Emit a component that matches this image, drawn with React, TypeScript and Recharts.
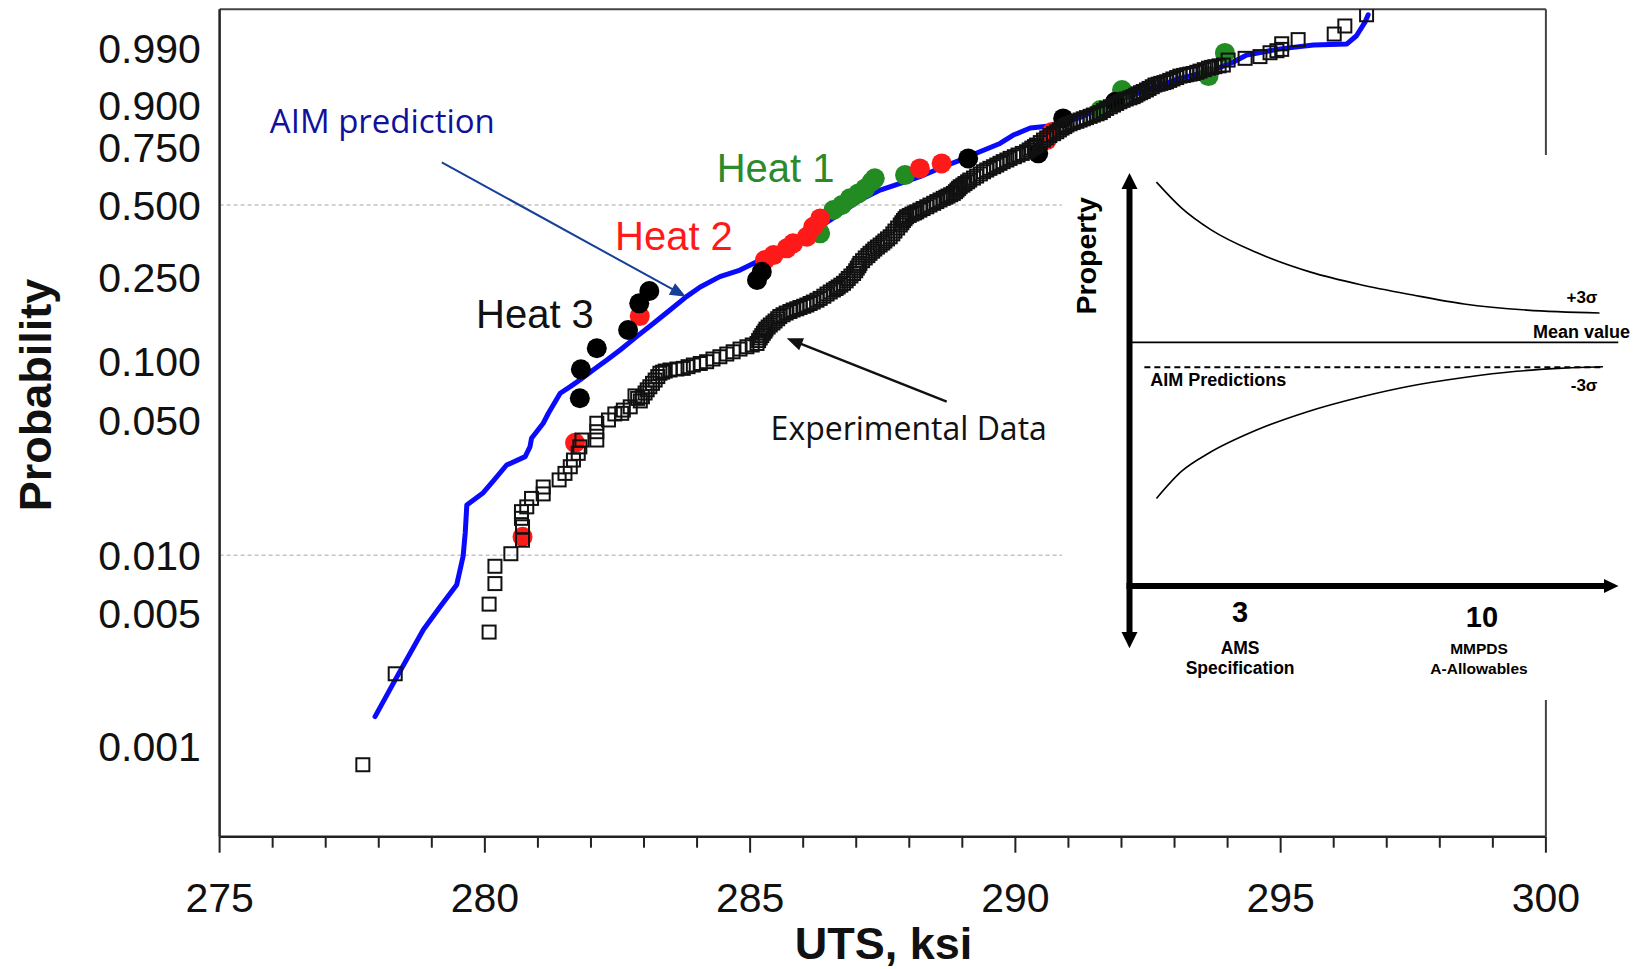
import React from 'react';
import { ScatterChart, Scatter, XAxis, YAxis, ReferenceLine } from 'recharts';

const ARIAL = "'Liberation Sans', Arial, Helvetica, sans-serif";
const CALIBRI = "'Open Sans', 'Noto Sans', sans-serif";

// ---------------- main chart data ----------------
const probTicks = [0.001, 0.005, 0.01, 0.05, 0.1, 0.25, 0.5, 0.75, 0.9, 0.99];
const probTickLabels = ['0.001', '0.005', '0.010', '0.050', '0.100', '0.250', '0.500', '0.750', '0.900', '0.990'];
const utsTicks = [275, 276, 277, 278, 279, 280, 281, 282, 283, 284, 285, 286, 287, 288, 289, 290, 291, 292, 293, 294, 295, 296, 297, 298, 299, 300];
const gridProbs = [0.5, 0.01];

// [UTS ksi, probability]
const aimPrediction: [number, number][] = [
  [277.93, 0.00143], [278.31, 0.00223], [278.84, 0.00408], [279.16, 0.0054], [279.47, 0.00703],
  [279.59, 0.0099], [279.63, 0.0131], [279.66, 0.0183], [279.97, 0.0212], [280.16, 0.0244],
  [280.41, 0.0295], [280.76, 0.0326], [280.85, 0.0366], [280.88, 0.0405], [281.10, 0.0484],
  [281.20, 0.0546], [281.42, 0.0688], [281.61, 0.0743], [281.79, 0.0802], [282.04, 0.0901],
  [282.30, 0.101], [282.55, 0.1133], [282.86, 0.1317], [283.18, 0.1529], [283.49, 0.1771],
  [283.80, 0.2047], [284.06, 0.227], [284.43, 0.253], [284.81, 0.2709], [285.06, 0.2897],
  [285.44, 0.3202], [285.81, 0.3535], [286.32, 0.4133], [286.70, 0.4659], [287.07, 0.521],
  [287.45, 0.5643], [287.83, 0.5936], [288.20, 0.623], [288.64, 0.6675], [288.96, 0.6969],
  [289.33, 0.7327], [289.71, 0.7674], [289.96, 0.801], [290.28, 0.8275], [290.69, 0.836],
  [291.22, 0.8638], [291.85, 0.9106], [292.48, 0.938], [293.10, 0.9594], [293.73, 0.971],
  [294.11, 0.9799], [294.36, 0.9857], [294.99, 0.9897], [295.62, 0.9917], [296.25, 0.9922],
  [296.43, 0.9953], [296.59, 0.9982], [296.65, 0.999],
];

const experimentalData: [number, number][] = [
  [277.70, 0.0008], [278.31, 0.0024], [280.08, 0.00397], [280.08, 0.00556], [280.19, 0.00712],
  [280.19, 0.00877], [280.49, 0.0102], [280.71, 0.012], [280.71, 0.0141], [280.69, 0.0156],
  [280.69, 0.0169], [280.79, 0.0179], [280.88, 0.0198], [281.10, 0.0209], [281.10, 0.0227],
  [281.40, 0.0247], [281.51, 0.0267], [281.61, 0.0289], [281.67, 0.0313], [281.76, 0.0339],
  [281.79, 0.0366], [281.83, 0.0397], [282.11, 0.0397], [282.11, 0.0438], [282.11, 0.0484],
  [282.33, 0.0503], [282.45, 0.054], [282.58, 0.0544], [282.61, 0.0565], [282.74, 0.0587],
  [282.83, 0.0667], [282.93, 0.0629], [283.02, 0.069], [283.11, 0.0742], [283.21, 0.0802],
  [283.30, 0.0868], [283.40, 0.089], [283.49, 0.0901], [283.62, 0.0911], [283.74, 0.0918],
  [283.83, 0.0936], [283.93, 0.0954], [284.06, 0.0971], [284.18, 0.0991], [284.30, 0.1022],
  [284.43, 0.1049], [284.56, 0.1082], [284.68, 0.111], [284.81, 0.1145], [284.94, 0.1175],
  [285.04, 0.1199], [285.13, 0.122], [285.19, 0.1298], [285.25, 0.1369], [285.30, 0.1434],
  [285.38, 0.1501], [285.47, 0.1569], [285.56, 0.1649], [285.68, 0.1713], [285.81, 0.1771],
  [285.94, 0.182], [286.07, 0.187], [286.19, 0.1932], [286.32, 0.2009], [286.45, 0.2106],
  [286.57, 0.2198], [286.66, 0.227], [286.76, 0.2359], [286.85, 0.2483], [286.95, 0.2614],
  [287.02, 0.2764], [287.07, 0.2899], [287.17, 0.3062], [287.26, 0.3207], [287.35, 0.3345],
  [287.45, 0.3478], [287.54, 0.3614], [287.64, 0.3764], [287.73, 0.3972], [287.83, 0.4197],
  [287.89, 0.4371], [287.95, 0.452], [288.05, 0.4629], [288.14, 0.472], [288.26, 0.4854],
  [288.39, 0.4999], [288.52, 0.5145], [288.64, 0.5283], [288.73, 0.5382], [288.83, 0.5496],
  [288.90, 0.5643], [288.96, 0.5787], [289.05, 0.5928], [289.14, 0.6083], [289.27, 0.6261],
  [289.40, 0.6452], [289.52, 0.6604], [289.65, 0.6749], [289.77, 0.6899], [289.90, 0.7042],
  [290.05, 0.7186], [290.21, 0.7326], [290.31, 0.7481], [290.40, 0.7609], [290.53, 0.7812],
  [290.65, 0.799], [290.78, 0.8137], [290.88, 0.8273], [290.97, 0.8383], [291.09, 0.8471],
  [291.22, 0.8557], [291.34, 0.8638], [291.47, 0.872], [291.60, 0.8797], [291.72, 0.8922],
  [291.85, 0.9017], [291.97, 0.9106], [292.09, 0.9177], [292.22, 0.9233], [292.31, 0.9298],
  [292.41, 0.9349], [292.52, 0.9414], [292.63, 0.9479], [292.74, 0.9509], [292.85, 0.9538],
  [292.97, 0.9584], [293.10, 0.9628], [293.23, 0.9648], [293.35, 0.9665], [293.48, 0.9697],
  [293.64, 0.9733], [293.76, 0.975], [293.92, 0.9768], [294.01, 0.9816], [294.33, 0.9831],
  [294.61, 0.9845], [294.80, 0.9873], [294.93, 0.9886], [295.02, 0.9894], [295.02, 0.9923],
  [295.33, 0.994], [296.01, 0.9958], [296.21, 0.9976], [296.62, 0.999],
  // densely packed tests in the central band
  [282.88, 0.0648], [282.97, 0.066], [283.06, 0.0716], [283.16, 0.0772], [283.26, 0.0835], [283.35, 0.0879],
  [285.16, 0.126], [285.22, 0.1333], [285.28, 0.1401], [285.34, 0.1467], [285.43, 0.1535], [285.52, 0.1609],
  [285.62, 0.1681], [285.75, 0.1742], [285.88, 0.1795], [286.01, 0.1845], [286.13, 0.1901], [286.26, 0.197],
  [286.39, 0.2057], [286.51, 0.2152], [286.62, 0.2234], [286.71, 0.2314], [286.81, 0.2421], [286.90, 0.2548],
  [286.99, 0.2689], [287.05, 0.2831], [287.12, 0.298], [287.22, 0.3134], [287.31, 0.3276], [287.40, 0.3411],
  [287.50, 0.3546], [287.59, 0.3689], [287.69, 0.3868], [287.78, 0.4084], [287.86, 0.4284], [287.92, 0.4445],
  [288.00, 0.4574], [288.10, 0.4674], [288.20, 0.4787], [288.33, 0.4926], [288.46, 0.5072], [288.58, 0.5214],
  [288.69, 0.5332], [288.78, 0.5439], [288.87, 0.557], [288.93, 0.5715], [289.01, 0.5857], [289.10, 0.6005],
  [289.21, 0.6172], [289.34, 0.6356], [289.46, 0.6528], [289.59, 0.6676], [289.71, 0.6824], [289.84, 0.697],
  [289.98, 0.7114], [290.13, 0.7256], [290.26, 0.7403], [290.36, 0.7545], [290.47, 0.771],
  [290.59, 0.79], [290.72, 0.8064], [290.83, 0.8205], [290.93, 0.8328], [291.03, 0.8427], [291.16, 0.8514],
  [291.28, 0.8598], [291.41, 0.8679], [291.54, 0.8759], [291.66, 0.886], [291.79, 0.897], [291.91, 0.9062],
  [292.03, 0.9142], [292.16, 0.9205], [292.27, 0.9266], [292.36, 0.9324], [292.47, 0.9382], [292.58, 0.9447],
  [292.69, 0.9494], [292.80, 0.9524], [292.91, 0.9561], [293.04, 0.9606], [293.17, 0.9638], [293.29, 0.9657],
  [293.42, 0.9681], [293.56, 0.9715], [293.70, 0.9742], [293.84, 0.9759],
];

const heat1: [number, number][] = [
  [286.32, 0.3888], [286.57, 0.4792], [286.73, 0.4999], [286.88, 0.5283], [287.04, 0.5496],
  [287.17, 0.5715], [287.29, 0.601], [287.35, 0.616], [287.92, 0.6305], [291.60, 0.8874],
  [292.01, 0.938], [293.64, 0.9628], [293.95, 0.9872],
];
const heat2: [number, number][] = [
  [280.71, 0.0125], [281.70, 0.0384], [282.92, 0.1657], [285.28, 0.2999], [285.44, 0.3152],
  [285.69, 0.3368], [285.81, 0.3535], [286.07, 0.3764], [286.19, 0.4133], [286.32, 0.4456],
  [288.20, 0.6601], [288.61, 0.6822], [290.59, 0.7812], [290.69, 0.8127],
];
const heat3: [number, number][] = [
  [281.79, 0.0649], [281.81, 0.0908], [282.11, 0.1155], [282.70, 0.1419], [282.91, 0.1905],
  [283.10, 0.2175], [285.13, 0.2442], [285.22, 0.2663], [289.11, 0.7042], [290.43, 0.7259],
  [290.90, 0.8612], [291.88, 0.9106],
];

// ---------------- inset data ----------------
const insetTickValues = [3, 10];
const insetTickTitles = ['AMS', 'MMPDS'];
const insetTickSubtitles = ['Specification', 'A-Allowables'];
// [number of heats, property (schematic units)]
const insetUpper: [number, number][] = [
  [0.58, 3.88], [1.31, 3.25], [2.15, 2.73], [3.46, 2.18], [5.04, 1.7],
  [6.46, 1.4], [7.97, 1.15], [9.48, 0.93], [11.3, 0.78], [13.4, 0.71],
];
const insetLower: [number, number][] = [
  [0.58, -3.78], [1.31, -3.12], [2.1, -2.68], [3.46, -2.13], [4.95, -1.68],
  [6.46, -1.33], [7.97, -1.05], [9.48, -0.85], [11.0, -0.7], [12.2, -0.63], [13.5, -0.59],
];
const insetMean: [number, number][] = [[-0.2, 0], [13.95, 0]];
const insetAim: [number, number][] = [[0.23, -0.605], [13.5, -0.605]];

// ---------------- helpers ----------------
const weib = (p: number) => Math.log(-Math.log(1 - p));
const toPts = (arr: [number, number][]) => arr.map(([u, p]) => ({ x: u, y: weib(p) }));
const toInset = (arr: [number, number][]) => arr.map(([n, v]) => ({ n, v }));
const probTicksW = probTicks.map(weib);

const W = 1640;
const H = 969;
const PL = 219.6;
const PR = 1545.9;
const PT = 9.2;
const PB = 836.7;

const Empty = () => <g />;

const squareShape = (props: any) => (
  <rect x={props.cx - 6.5} y={props.cy - 6.5} width={13} height={13} fill="none" stroke="#111" strokeWidth={2} />
);
const circleShape = (color: string) => (props: any) => (
  <circle cx={props.cx} cy={props.cy} r={10} fill={color} />
);

// tick renderers get the axis line position because tickSize/tickMargin are 0
const XTick = (props: any) => {
  const { x, y, payload } = props;
  const v = payload.value;
  const major = Math.abs(v % 5) < 1e-9;
  return (
    <g>
      <line x1={x} x2={x} y1={y} y2={y + (major ? 16 : 11)} stroke="#222" strokeWidth={2} />
      {major && (
        <text x={x} y={y + 75} textAnchor="middle" fontFamily={ARIAL} fontSize={41} fill="#111">
          {v}
        </text>
      )}
    </g>
  );
};

const YTick = (props: any) => {
  const { x, y, payload } = props;
  const i = probTicksW.findIndex((t) => Math.abs(t - payload.value) < 1e-6);
  const label = i >= 0 ? probTickLabels[i] : '';
  return (
    <text x={x - 18.8} y={y + 14.7} textAnchor="end" fontFamily={ARIAL} fontSize={41} fill="#111">
      {label}
    </text>
  );
};

const InsetTick = (props: any) => {
  const { x, y, payload } = props;
  const i = insetTickValues.indexOf(payload.value);
  if (i < 0) return <g />;
  const big = i === 0 ? 35.7 : 40.7;
  const small = i === 0 ? 17.5 : 15.5;
  return (
    <g fontFamily={ARIAL} fontWeight="bold" fill="#000" textAnchor="middle">
      <text x={x} y={y + big} fontSize={29}>{payload.value}</text>
      <text x={x - (i === 0 ? 0 : 3)} y={y + 67.6} fontSize={small}>{insetTickTitles[i]}</text>
      <text x={x - (i === 0 ? 0 : 3)} y={y + 88.3} fontSize={small}>{insetTickSubtitles[i]}</text>
    </g>
  );
};

const Arrow = ({ x1, y1, x2, y2, color, w, len, half }: any) => {
  const dx = x2 - x1;
  const dy = y2 - y1;
  const L = Math.hypot(dx, dy);
  const ux = dx / L;
  const uy = dy / L;
  const bx = x2 - ux * len;
  const by = y2 - uy * len;
  const px = -uy;
  const py = ux;
  return (
    <g>
      <line x1={x1} y1={y1} x2={bx + ux * 2} y2={by + uy * 2} stroke={color} strokeWidth={w} />
      <polygon
        points={`${x2},${y2} ${bx + px * half},${by + py * half} ${bx - px * half},${by - py * half}`}
        fill={color}
      />
    </g>
  );
};

// inset geometry
const IX = 1061.5;
const IY = 155;
const IW = W - IX;
const IH = 545;
const IAX = 67.5; // vertical axis x (local)
const IAY = 431; // horizontal axis y (local)
const IRIGHT = 556.5;

export default function App() {
  return (
    <div style={{ position: 'absolute', left: 0, top: 0, width: W, height: H, background: '#fff', overflow: 'hidden' }}>
      <div style={{ position: 'absolute', left: 0, top: 0 }}>
        <ScatterChart width={W} height={H} margin={{ top: 0, right: 0, bottom: 0, left: 0 }}>
          <XAxis
            type="number"
            dataKey="x"
            domain={[275, 300]}
            ticks={utsTicks}
            interval={0}
            height={H - PB}
            tickSize={0}
            tickMargin={0}
            tickLine={false}
            allowDataOverflow
            axisLine={{ stroke: '#222', strokeWidth: 2.5 }}
            tick={(p: any) => <XTick {...p} />}
          />
          <XAxis
            xAxisId="top"
            orientation="top"
            type="number"
            domain={[275, 300]}
            height={PT}
            tick={false}
            tickLine={false}
            axisLine={{ stroke: '#444', strokeWidth: 2 }}
          />
          <YAxis
            type="number"
            dataKey="y"
            domain={[-8, 2]}
            ticks={probTicksW}
            interval={0}
            width={PL}
            tickSize={0}
            tickMargin={0}
            tickLine={false}
            allowDataOverflow
            axisLine={{ stroke: '#222', strokeWidth: 2.5 }}
            tick={(p: any) => <YTick {...p} />}
          />
          <YAxis
            yAxisId="right"
            orientation="right"
            type="number"
            domain={[-8, 2]}
            width={W - PR}
            tick={false}
            tickLine={false}
            axisLine={{ stroke: '#444', strokeWidth: 2 }}
          />
          {gridProbs.map((g) => (
            <ReferenceLine key={g} y={weib(g)} stroke="#c4c4c4" strokeWidth={1.5} strokeDasharray="4 3" />
          ))}
          <Scatter
            name="AIM prediction"
            data={toPts(aimPrediction)}
            shape={Empty}
            line={{ stroke: '#0a0aff', strokeWidth: 5, strokeLinejoin: 'round', strokeLinecap: 'round' }}
            isAnimationActive={false}
          />
          <Scatter name="Heat 1" data={toPts(heat1)} shape={circleShape('#228b22')} isAnimationActive={false} />
          <Scatter name="Heat 2" data={toPts(heat2)} shape={circleShape('#ff1a1a')} isAnimationActive={false} />
          <Scatter name="Heat 3" data={toPts(heat3)} shape={circleShape('#000')} isAnimationActive={false} />
          <Scatter name="Experimental Data" data={toPts(experimentalData)} shape={squareShape} isAnimationActive={false} />
        </ScatterChart>
      </div>

      <svg width={W} height={H} style={{ position: 'absolute', left: 0, top: 0, pointerEvents: 'none' }}>
        <text
          x={50.8}
          y={394.9}
          transform="rotate(-90 50.8 394.9)"
          textAnchor="middle"
          fontFamily={ARIAL}
          fontWeight="bold"
          fontSize={45}
          fill="#111"
        >
          Probability
        </text>
        <text x={883.6} y={959} textAnchor="middle" fontFamily={ARIAL} fontWeight="bold" fontSize={45} fill="#111">
          UTS, ksi
        </text>
        <text x={269.8} y={133.3} fontFamily={CALIBRI} fontSize={33} fill="#10109a">AIM prediction</text>
        <Arrow x1={441.8} y1={162.3} x2={686} y2={296.7} color="#163f97" w={2} len={16} half={6.5} />
        <text x={716.7} y={181.7} fontFamily={ARIAL} fontSize={40} fill="#2b8a2b">Heat 1</text>
        <text x={615} y={250} fontFamily={ARIAL} fontSize={40} fill="#ff1a1a">Heat 2</text>
        <text x={476} y={328} fontFamily={ARIAL} fontSize={40} fill="#111">Heat 3</text>
        <text x={770.6} y={440} fontFamily={CALIBRI} fontSize={32} fill="#111">Experimental Data</text>
        <Arrow x1={946.7} y1={401.7} x2={786.7} y2={338.3} color="#111" w={2.5} len={16} half={6.5} />
      </svg>

      <div style={{ position: 'absolute', left: IX, top: IY, width: IW, height: IH, background: '#fff' }}>
        <div style={{ position: 'absolute', left: 0, top: 0 }}>
          <ScatterChart width={IW} height={IH} margin={{ top: 18, right: IW - IRIGHT, bottom: 0, left: IAX }}>
            <XAxis
              type="number"
              dataKey="n"
              domain={[-0.2, 13.95]}
              ticks={insetTickValues}
              interval={0}
              height={IH - IAY}
              tickSize={0}
              tickMargin={0}
              tickLine={false}
              axisLine={false}
              allowDataOverflow
              tick={(p: any) => <InsetTick {...p} />}
            />
            <YAxis type="number" dataKey="v" domain={[-5.9, 4.1]} hide allowDataOverflow />
            <Scatter
              name="+3σ"
              data={toInset(insetUpper)}
              shape={Empty}
              lineJointType="monotoneX"
              line={{ stroke: '#000', strokeWidth: 1.6 }}
              isAnimationActive={false}
            />
            <Scatter
              name="-3σ"
              data={toInset(insetLower)}
              shape={Empty}
              lineJointType="monotoneX"
              line={{ stroke: '#000', strokeWidth: 1.6 }}
              isAnimationActive={false}
            />
            <Scatter
              name="Mean value"
              data={toInset(insetMean)}
              shape={Empty}
              line={{ stroke: '#000', strokeWidth: 1.8 }}
              isAnimationActive={false}
            />
            <Scatter
              name="AIM Predictions"
              data={toInset(insetAim)}
              shape={Empty}
              line={{ stroke: '#000', strokeWidth: 2, strokeDasharray: '6 4' }}
              isAnimationActive={false}
            />
          </ScatterChart>
        </div>
        <svg width={IW} height={IH} style={{ position: 'absolute', left: 0, top: 0, pointerEvents: 'none' }}>
          <line x1={IAX} x2={IAX} y1={30} y2={482} stroke="#000" strokeWidth={6} />
          <polygon points={`${IAX},18 ${IAX - 8},34 ${IAX + 8},34`} fill="#000" />
          <polygon points={`${IAX},493.3 ${IAX - 8},477 ${IAX + 8},477`} fill="#000" />
          <line x1={IAX - 3} x2={545} y1={IAY} y2={IAY} stroke="#000" strokeWidth={6} />
          <polygon points={`${IRIGHT},${IAY} 542,${IAY - 7} 542,${IAY + 7}`} fill="#000" />
          <text
            x={33.6}
            y={100.8}
            transform="rotate(-90 33.6 100.8)"
            textAnchor="middle"
            fontFamily={ARIAL}
            fontWeight="bold"
            fontSize={28.5}
            fill="#000"
          >
            Property
          </text>
          <g fontFamily={ARIAL} fontWeight="bold" fill="#000">
            <text x={535.5} y={148} textAnchor="end" fontSize={17}>+3σ</text>
            <text x={568} y={183} textAnchor="end" fontSize={18}>Mean value</text>
            <text x={88.2} y={230.7} fontSize={18}>AIM Predictions</text>
            <text x={535.5} y={236.4} textAnchor="end" fontSize={17}>-3σ</text>
          </g>
        </svg>
      </div>
    </div>
  );
}
